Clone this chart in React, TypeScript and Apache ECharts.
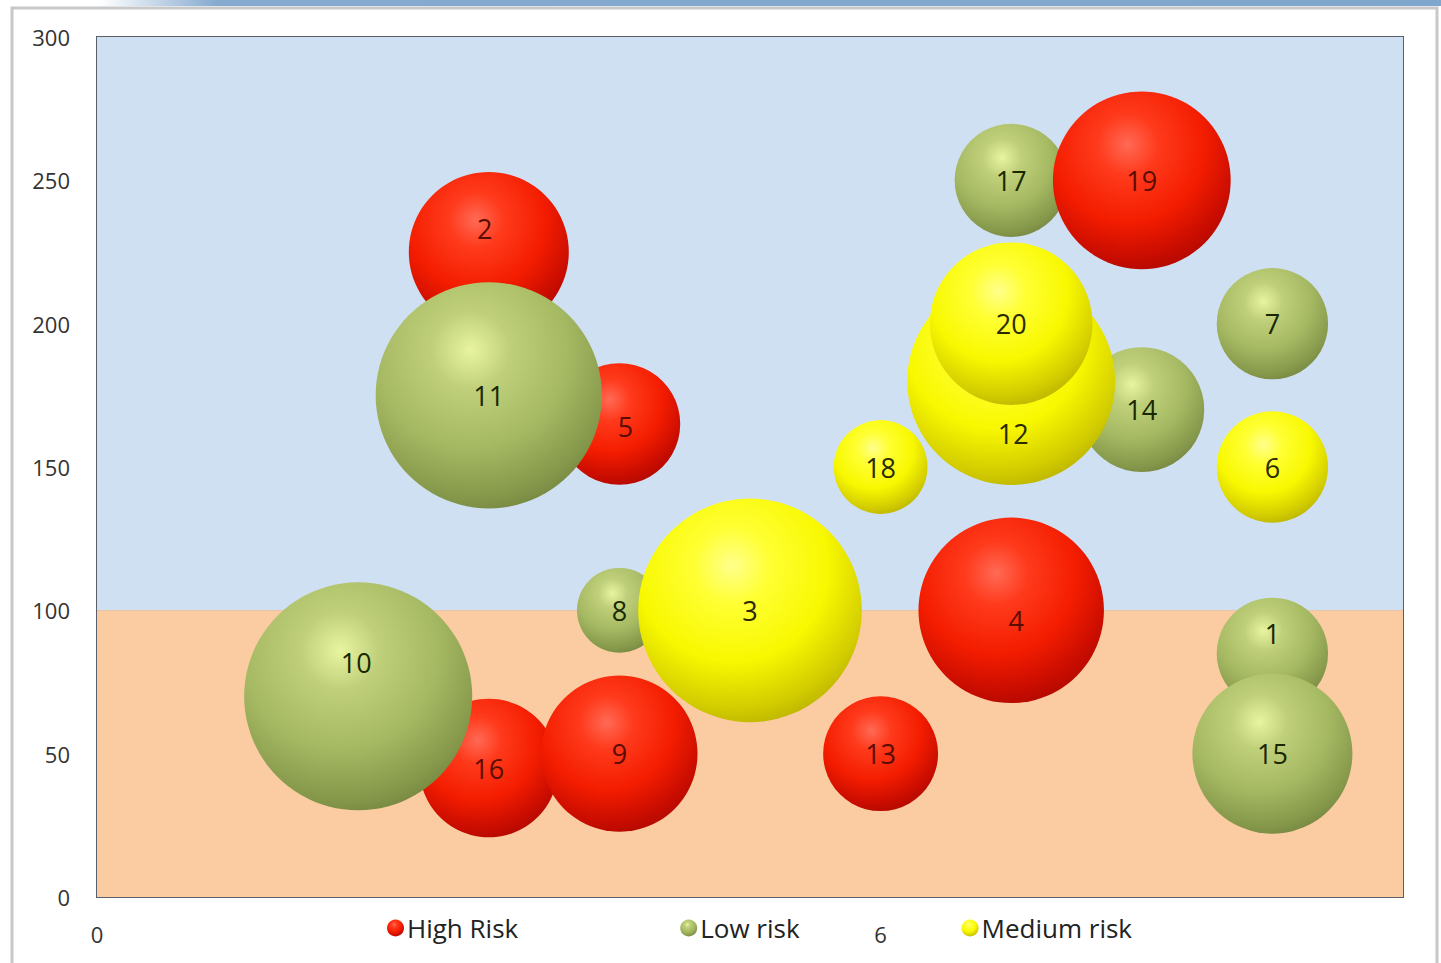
import React, { useEffect, useRef } from "react";
import * as echarts from "echarts";

const bubbleIds = [1, 2, 3, 4, 5, 6, 7, 8, 9, 10, 11, 12, 13, 14, 15, 16, 17, 18, 19, 20];
const bubbleX = [9, 3, 5, 7, 4, 9, 9, 4, 4, 2, 3, 7, 6, 8, 9, 3, 7, 6, 8, 7];
const bubbleY = [85, 225, 100, 100, 165, 150, 200, 100, 50, 70, 175, 180, 50, 170, 50, 45, 250, 150, 250, 200];
const bubbleSize = [31, 64, 125, 86, 37, 31, 31, 18, 61, 130, 128, 108, 33, 39, 64, 48, 32, 22, 79, 66];
const bubbleRisk = ["Low risk", "High Risk", "Medium risk", "High Risk", "High Risk", "Medium risk", "Low risk", "Low risk", "High Risk", "Low risk", "Low risk", "Medium risk", "High Risk", "Low risk", "Low risk", "High Risk", "Low risk", "Medium risk", "High Risk", "Medium risk"];
const riskNames = ["High Risk", "Low risk", "Medium risk"];
// stacking order of the bubbles (first = bottom)
const drawOrder = [2, 5, 16, 9, 13, 4, 1, 15, 8, 10, 11, 14, 17, 7, 12, 20, 3, 18, 6, 19];
// labels moved by hand in the original (pixel nudges, styling only)
const labelNudge: Record<number, [number, number]> = { 2: [-4, -24], 12: [2, 52], 10: [-2, -34], 1: [0, -20], 4: [5, 10], 5: [6, 2] };
const bandLow = [0, 100];
const bandHigh = [100, 300];

const grad = (hi: string, mid: string, base: string, dark: string, rim: string) =>
  new echarts.graphic.RadialGradient(0.42, 0.3, 0.78, [
    { offset: 0, color: hi },
    { offset: 0.22, color: mid },
    { offset: 0.55, color: base },
    { offset: 0.82, color: dark },
    { offset: 1, color: rim },
  ]);

const styles: Record<string, { color: any; text: string }> = {
  "High Risk": { color: grad("#ff6a55", "#ff3a1c", "#f41d00", "#c80c00", "#a80800"), text: "#5a0c00" },
  "Low risk": { color: grad("#e8f4a0", "#c0d07a", "#a5b862", "#879a4c", "#6e7f3a"), text: "#1a2800" },
  "Medium risk": { color: grad("#ffff8c", "#ffff33", "#f8f800", "#d2cc00", "#b0a800"), text: "#2a2a00" },
};

export default function App() {
  const ref = useRef<HTMLDivElement>(null);
  useEffect(() => {
    document.body.style.margin = "0";
    const chart = echarts.init(ref.current!, null, { renderer: "svg" });
    const font = "'Open Sans', 'Noto Sans', sans-serif";
    const bubbleSeries = drawOrder.map((id) => {
      const i = bubbleIds.indexOf(id);
      const risk = bubbleRisk[i];
      return {
        type: "scatter",
        name: risk,
        data: [[bubbleX[i], bubbleY[i], bubbleSize[i], bubbleIds[i]]],
        symbol: "circle",
        symbolSize: (v: number[]) => Math.sqrt(v[2]) * 20,
        itemStyle: { color: styles[risk].color, opacity: 1 },
        label: {
          show: true,
          position: "inside",
          offset: labelNudge[id] || [0, 0],
          formatter: (p: any) => String(p.value[3]),
          fontSize: 27,
          fontFamily: font,
          color: styles[risk].text,
        },
        emphasis: { disabled: true },
        z: 3,
      };
    });
    chart.setOption({
      animation: false,
      backgroundColor: "#ffffff",
      textStyle: { fontFamily: font },
      grid: {
        left: 97,
        right: 38,
        top: 37,
        bottom: 66,
        show: true,
        borderColor: "#5a5f68",
        borderWidth: 2,
        backgroundColor: "transparent",
      },
      xAxis: {
        type: "value",
        min: 0,
        max: 10,
        interval: 6,
        axisLine: { show: false },
        axisTick: { show: false },
        axisLabel: { fontSize: 22, color: "#333", margin: 26, showMaxLabel: false, fontFamily: font },
        splitLine: { show: true, lineStyle: { color: "rgba(90,95,110,0.55)", width: 2 } },
      },
      yAxis: {
        type: "value",
        min: 0,
        max: 300,
        interval: 50,
        axisLine: { show: false },
        axisTick: { show: false },
        axisLabel: { fontSize: 22, color: "#333", margin: 27, fontFamily: font },
        splitLine: { show: true, lineStyle: { color: "rgba(90,95,110,0.55)", width: 2 } },
      },
      legend: {
        data: riskNames,
        left: 382,
        top: 910,
        itemWidth: 17,
        itemHeight: 17,
        itemGap: 162,
        icon: "circle",
        textStyle: { fontSize: 26, color: "#222", fontFamily: font, padding: [0, 0, 0, -2] },
      },
      graphic: [
        {
          type: "rect",
          shape: { x: 12, y: 8, width: 1425, height: 1000 },
          style: { fill: "none", stroke: "#c8c8c8", lineWidth: 3 },
          z: 100,
        },
        {
          type: "rect",
          shape: { x: 0, y: 0, width: 1441, height: 6 },
          style: {
            fill: new echarts.graphic.LinearGradient(0, 0, 1, 0, [
              { offset: 0, color: "#ffffff" },
              { offset: 0.07, color: "#ffffff" },
              { offset: 0.15, color: "#86aad0" },
              { offset: 1, color: "#7fa6cc" },
            ]),
          },
          z: 100,
        },
      ],
      series: [
        {
          type: "scatter",
          data: [],
          silent: true,
          markArea: {
            silent: true,
            itemStyle: { opacity: 1 },
            data: [
              [
                { yAxis: bandHigh[0], itemStyle: { color: "#d0e0f3" } },
                { yAxis: bandHigh[1] },
              ],
              [
                { yAxis: bandLow[0], itemStyle: { color: "#fbcba1" } },
                { yAxis: bandLow[1] },
              ],
            ],
          },
          z: 0,
        },
        ...bubbleSeries,
      ],
    });
    return () => chart.dispose();
  }, []);
  return <div ref={ref} style={{ width: 1441, height: 963, position: "absolute", left: 0, top: 0 }} />;
}
